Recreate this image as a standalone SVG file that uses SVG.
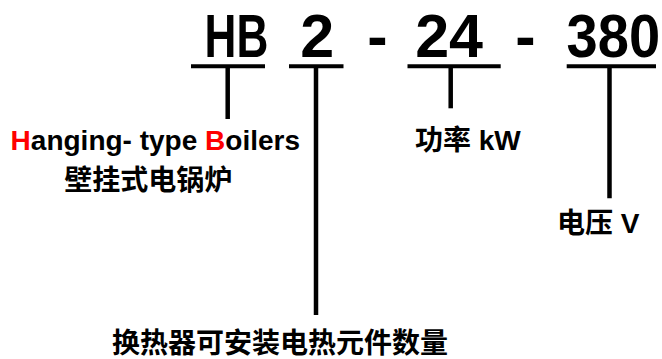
<svg xmlns="http://www.w3.org/2000/svg" width="662" height="359" viewBox="0 0 662 359">
<style>
.code{font-family:"Liberation Sans","Noto Sans CJK SC",sans-serif;font-weight:700;font-size:61px;fill:#000}
.lbl{font-family:"Liberation Sans","Noto Sans CJK SC",sans-serif;font-weight:700;font-size:28px;fill:#000}
.red{fill:#ff0000}
.bar{stroke:#000;stroke-width:4;fill:none}
.stem{stroke:#000;stroke-width:4.5;fill:none}
</style>
<rect width="662" height="359" fill="#fff"/>
<g id="connectors">
<line class="bar" x1="191" y1="66.3" x2="265" y2="66.3"/>
<line class="bar" x1="289" y1="66.3" x2="343.5" y2="66.3"/>
<line class="bar" x1="407.5" y1="66.3" x2="500.7" y2="66.3"/>
<line class="bar" x1="566.7" y1="66.3" x2="656" y2="66.3"/>
<line class="stem" x1="227.7" y1="66" x2="227.7" y2="119"/>
<line class="stem" x1="316" y1="66" x2="316" y2="315"/>
<line class="stem" x1="450.7" y1="66" x2="450.7" y2="108.3"/>
<line class="stem" x1="609.5" y1="66" x2="609.5" y2="198.3"/>
</g>
<g id="node-type">
<text class="code" x="204.5" y="57" textLength="63.8" lengthAdjust="spacingAndGlyphs">HB</text>
<text class="lbl" x="155.3" y="150" text-anchor="middle"><tspan class="red">H</tspan>anging- type <tspan class="red">B</tspan>oilers</text>
<text class="lbl" x="148.3" y="189.5" text-anchor="middle">壁挂式电锅炉</text>
</g>
<g id="node-count">
<text class="code" x="300.2" y="57">2</text>
<text class="lbl" x="280" y="353" text-anchor="middle">换热器可安装电热元件数量</text>
</g>
<g id="sep1"><text class="code" x="367.3" y="57">-</text></g>
<g id="node-power">
<text class="code" x="415.2" y="57">24</text>
<text class="lbl" x="415" y="150">功率 kW</text>
</g>
<g id="sep2"><text class="code" x="515.3" y="57">-</text></g>
<g id="node-voltage">
<text class="code" transform="translate(566.5 57) scale(0.92 1)" x="0" y="0">380</text>
<text class="lbl" x="598.3" y="233" text-anchor="middle">电压 V</text>
</g>
</svg>
